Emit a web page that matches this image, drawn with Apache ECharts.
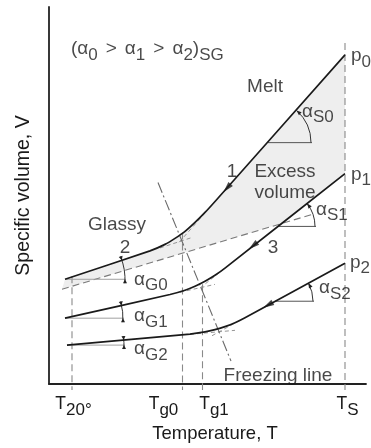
<!DOCTYPE html>
<html><head><meta charset="utf-8">
<script src="https://cdn.jsdelivr.net/npm/echarts@6/dist/echarts.min.js"></script>
<style>html,body{margin:0;padding:0;background:#fff}#c{width:371px;height:448px}</style>
</head><body><div id="c"></div>
<script>
// Schematic (arbitrary units): T = temperature, V = specific volume
const isobarP0 = [[296,330],[166,183],[156,172],[146,162],[136,153],[126,146],[116,140],[101,133.5],[16,105]];
const isobarP1 = [[296,211],[176,116.2],[166,109],[156,103],[146,98],[136,94],[121,89.7],[16,66]];
const isobarP2 = [[296,121],[196,66.5],[186,61.5],[176,57.5],[166,54.5],[156,52.2],[141,50],[18,39]];
const excessBoundary = [[13,95],[263,170]];
const freezingLine = [[109,202],[182,23]];
// short dashed tangent extensions around the glass transitions
const tangentExt = [
  [[111,136.4],[143,146.9]], [[156,171.5],[129,140.8]],
  [[131,92],[166,99.9]],     [[176,116.2],[149,94.6]],
  [[141,49.8],[186,53.8]],   [[191,63.8],[163,48.4]]
];
const tickValues = [23,133.5,153.5,296];          // T20°, Tg0, Tg1, TS
const tickTops   = [108,152,100,342];
const tickBase   = -6;
const tickLabels = [['T','20°'],['T','g0'],['T','g1'],['T','S']];
const tickLabelAt = [24.5,114.5,165,298.5];
const arrowOn = [[178,196.5],[204,138.5],[219,79.2]];
// angle marks: centre T, centre V, radius, kind, isobar index
const angleMarks = [
  [219,242,43,'S',0],[229,158,37,'S',1],[226,83,38,'S',2],
  [16,105,60,'G',0],[16,66,58,'G',1],[18,39,57,'G',2]
];
const isobars = [isobarP0, isobarP1, isobarP2];
const annotations = [
  ['{t|(α}{s|0}{g|>}{t|α}{s|1}{g|>}{t|α}{s|2}{t|)}{s|SG}', 22, 336, 'left'],
  ['{t|Melt}', 216, 298, 'center'],
  ['{t|α}{s|S0}', 253, 273, 'left'],
  ['{t|1}', 183, 213, 'center'],
  ['{m|Excess}\n{m|volume}', 236, 202.5, 'center'],
  ['{t|p}{s|0}', 302, 329, 'left'],
  ['{t|p}{s|1}', 302, 210, 'left'],
  ['{t|p}{s|2}', 301, 122, 'left'],
  ['{t|α}{s|S1}', 267, 175, 'left'],
  ['{t|α}{s|S2}', 270, 96, 'left'],
  ['{t|3}', 224, 137, 'center'],
  ['{t|2}', 76, 137, 'center'],
  ['{t|Glassy}', 68, 160, 'center'],
  ['{t|α}{s|G0}', 85, 105, 'left'],
  ['{t|α}{s|G1}', 85, 68, 'left'],
  ['{t|α}{s|G2}', 85, 35, 'left'],
  ['{t|Freezing line}', 229, 8, 'center']
];

const F = '"Liberation Sans", Arial, Helvetica, sans-serif';
const INK = '#1a1a1a';
const rich = {
  t:{fontSize:19, fontFamily:F, color:INK},
  g:{fontSize:19, fontFamily:F, color:INK, padding:[0,8,0,8]},
  m:{fontSize:19, fontFamily:F, color:INK, lineHeight:21},
  s:{fontSize:17, fontFamily:F, color:INK, padding:[12,0,0,0]}
};

function intersect(a1,a2,b1,b2){
  const d=(a2[0]-a1[0])*(b2[1]-b1[1])-(a2[1]-a1[1])*(b2[0]-b1[0]);
  const t=((b1[0]-a1[0])*(b2[1]-b1[1])-(b1[1]-a1[1])*(b2[0]-b1[0]))/d;
  return [a1[0]+t*(a2[0]-a1[0]), a1[1]+t*(a2[1]-a1[1])];
}
const excessMeetsP1 = intersect(excessBoundary[0],excessBoundary[1],isobarP1[0],isobarP1[1]);
const shadePolygon = [...isobarP0, excessBoundary[0], excessMeetsP1, isobarP1[0]];

function ln(data,color,width,type,z,smooth){
  return {type:'line',data,symbol:'none',showSymbol:false,clip:false,silent:true,smooth:smooth||false,
    z:z||3,lineStyle:{color,width,type:type||'solid'}};
}
function tri(P,d,L,w){
  const B=[P[0]-d[0]*L,P[1]-d[1]*L], n=[-d[1],d[0]];
  return [P,[B[0]+n[0]*w,B[1]+n[1]*w],[B[0]-n[0]*w,B[1]-n[1]*w]];
}

const series = [];
series.push({type:'custom',data:[[0,0]],silent:true,z:1,clip:false,
  renderItem:(p,api)=>({type:'polygon',shape:{points:shadePolygon.map(q=>api.coord(q))},style:{fill:'#eeeeee'}})});
tickValues.forEach((v,i)=>series.push(ln([[v,tickTops[i]],[v,tickBase]],'#8a8a8a',1.1,[7,4],2)));
series.push(ln(excessBoundary,'#7a7a7a',1.1,[7,4],2));
tangentExt.forEach(s=>series.push(ln(s,'#8a8a8a',0.9,[4,3],2)));
series.push(ln(freezingLine,'#6a6a6a',1.1,[11,3,2,3],2));
isobars.forEach(d=>series.push(ln(d,INK,1.7,'solid',5,0.2)));

// direction arrows on the melt lines
series.push({type:'scatter',silent:true,z:6,symbol:'triangle',symbolSize:[6,11],
  itemStyle:{color:INK},
  data:arrowOn.map((pt,i)=>{
    const a=isobars[i][0], b=isobars[i][1];
    const ang=Math.atan2(b[1]-a[1],b[0]-a[0])*180/Math.PI;
    return {value:pt,symbolRotate:ang-90};
  })});

// angle marks
series.push({type:'custom',data:angleMarks.map(m=>[m[0],m[1]]),silent:true,z:4,clip:false,
  renderItem:(params,api)=>{
    const m=angleMarks[params.dataIndex];
    const c=api.coord([m[0],m[1]]);
    const r=api.size([m[2],0])[0];
    const line=isobars[m[4]];
    const seg = m[3]==='S' ? [line[0],line[1]] : [line[line.length-2],line[line.length-1]];
    const p1=api.coord(seg[0]), p2=api.coord(seg[1]);
    const th=Math.abs(Math.atan((p2[1]-p1[1])/(p2[0]-p1[0])));
    const children=[];
    const refColor = m[3]==='S' ? '#555' : '#a0a0a0';
    children.push({type:'line',shape:{x1:c[0],y1:c[1],x2:c[0]+r+1,y2:c[1]},style:{stroke:refColor,lineWidth:1}});
    const ext = m[3]==='G' ? 4/r : 0;
    children.push({type:'arc',shape:{cx:c[0],cy:c[1],r,startAngle:-th-ext,endAngle:ext,clockwise:true},
      style:{stroke:'#333',lineWidth:1,fill:null}});
    const P=(phi)=>[c[0]+r*Math.cos(phi),c[1]+r*Math.sin(phi)];
    if(m[3]==='S'){
      const d=[-Math.sin(th),-Math.cos(th)];
      children.push({type:'polygon',shape:{points:tri(P(-th),d,5,2)},style:{fill:'#222'}});
    }else{
      const d1=[Math.sin(th),Math.cos(th)];
      children.push({type:'polygon',shape:{points:tri(P(-th),d1,4,2)},style:{fill:'#222'}});
      children.push({type:'polygon',shape:{points:tri(P(0),[0,-1],4,2)},style:{fill:'#222'}});
    }
    return {type:'group',children};
  }});

// text annotations
series.push({type:'scatter',silent:true,z:7,symbolSize:0.1,itemStyle:{color:'rgba(0,0,0,0)'},
  data:annotations.map(a=>({value:[a[1],a[2]],label:{show:true,position:'inside',formatter:a[0],
    align:a[3],verticalAlign:'middle',rich}}))});

const chart = echarts.init(document.getElementById('c'));
chart.setOption({
  animation:false,
  grid:{left:49,top:7,width:317,height:378,containLabel:false},
  xAxis:{type:'value',min:0,max:317,splitLine:{show:false},axisTick:{show:false},
    axisLine:{lineStyle:{color:'#222',width:1.8}},
    axisLabel:{customValues:tickLabelAt,margin:6,
      formatter:(v)=>{const i=tickLabelAt.indexOf(v);return i<0?'':'{t|'+tickLabels[i][0]+'}{s|'+tickLabels[i][1]+'}';},
      rich:{t:{fontSize:17.5,fontFamily:F,color:INK},s:{fontSize:17,fontFamily:F,color:INK,padding:[12,0,0,0]}}},
    name:'Temperature, T',nameLocation:'middle',nameGap:40,
    nameTextStyle:{fontSize:18.5,fontFamily:F,color:INK,padding:[0,0,0,15]}},
  yAxis:{type:'value',min:0,max:378,splitLine:{show:false},axisTick:{show:false},axisLabel:{show:false},
    axisLine:{lineStyle:{color:'#222',width:1.8}},
    name:'Specific volume, V',nameLocation:'middle',nameGap:15,
    nameTextStyle:{fontSize:19.5,fontFamily:F,color:INK}},
  series
});
</script></body></html>
